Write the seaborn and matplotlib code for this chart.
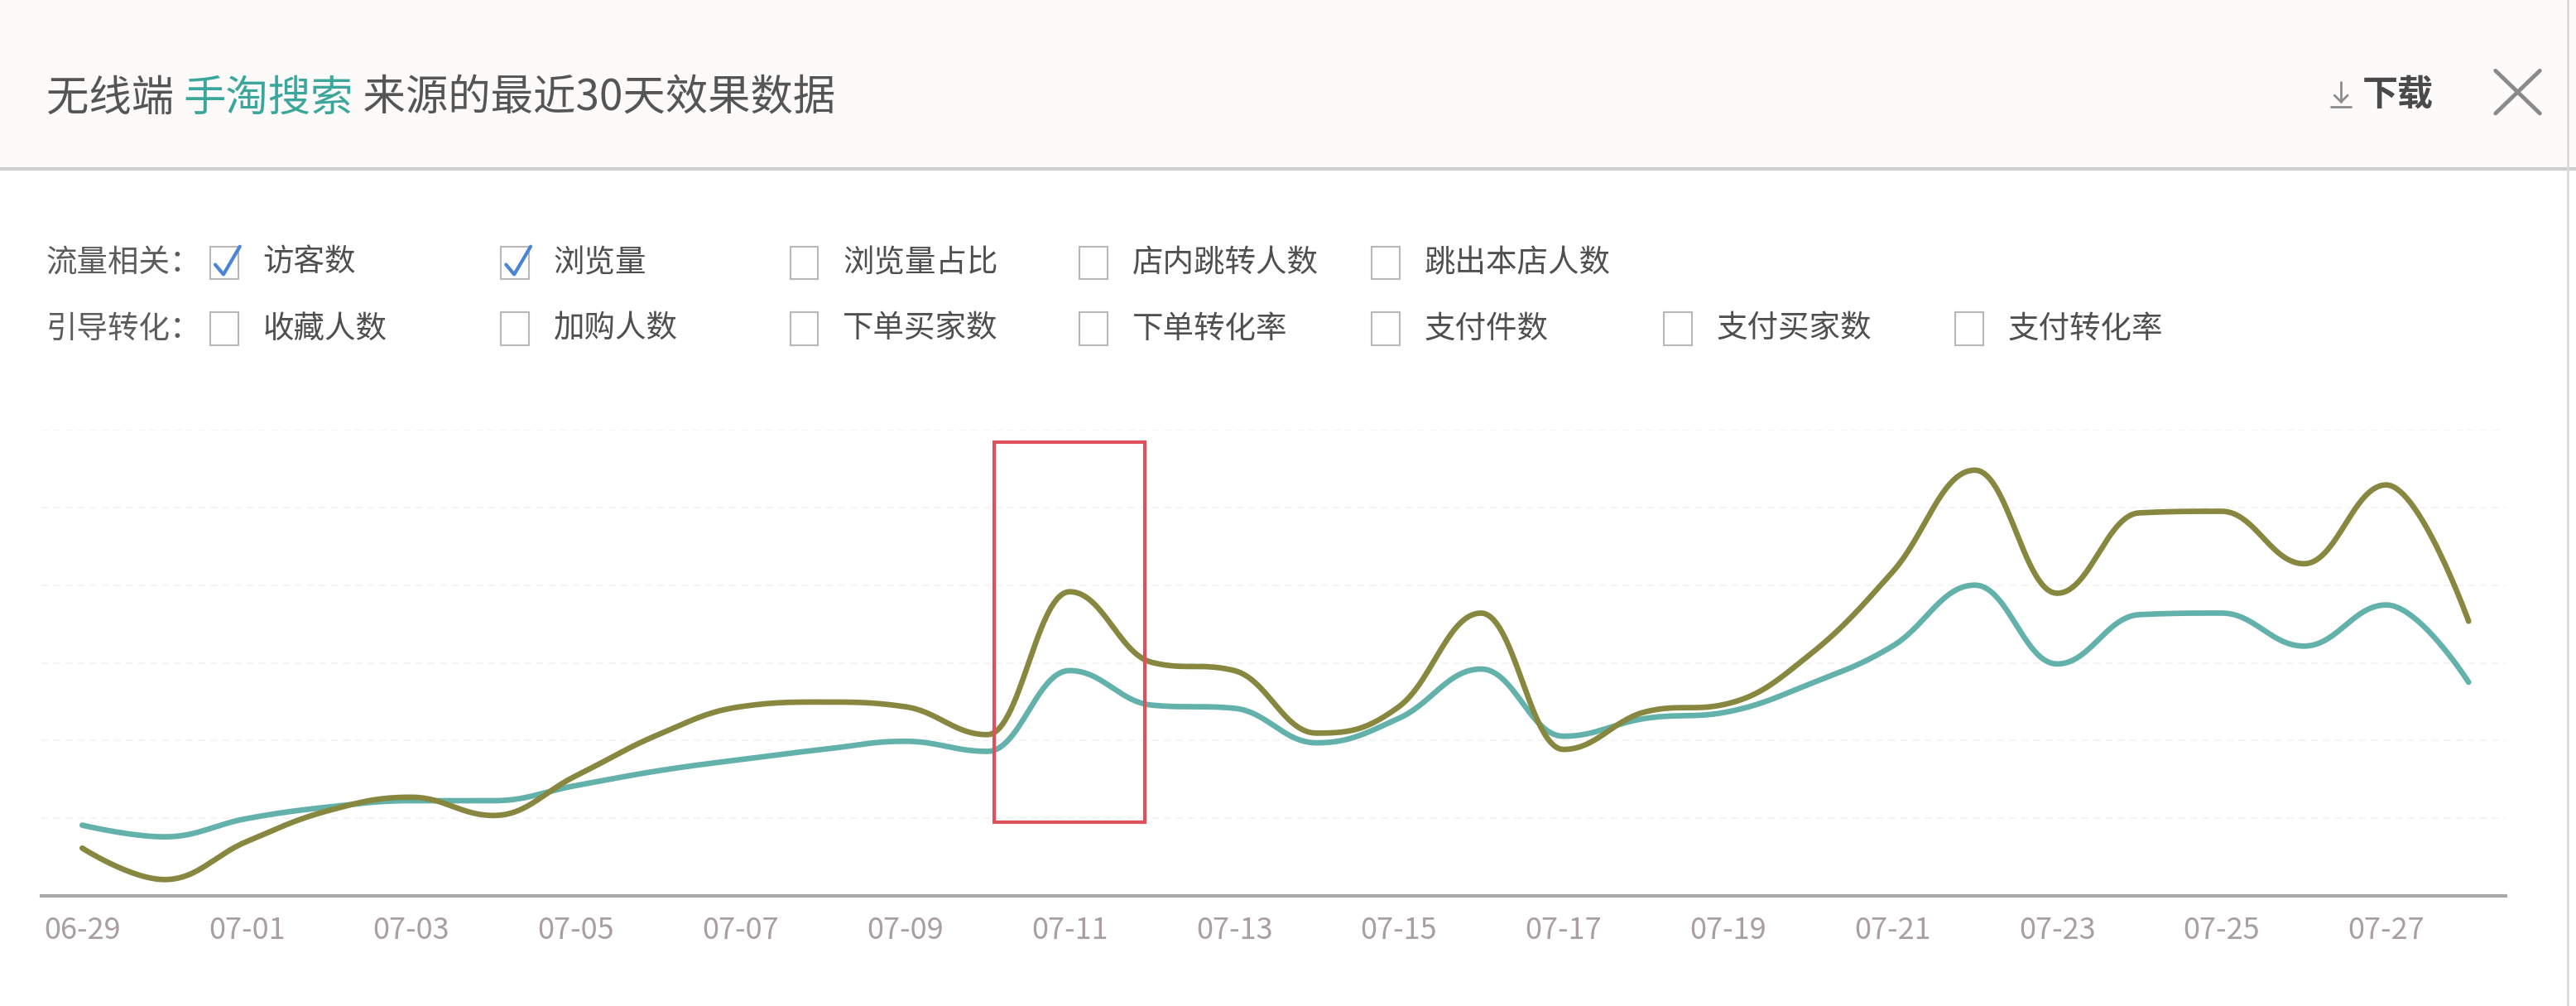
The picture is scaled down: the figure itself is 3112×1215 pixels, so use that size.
import numpy as np
import pandas as pd
import matplotlib
matplotlib.use("Agg")
import matplotlib.pyplot as plt
import seaborn as sns
from matplotlib.patches import Rectangle
from matplotlib.lines import Line2D

# ---------------- data ----------------
dates = ["06-29", "06-30", "07-01", "07-02", "07-03", "07-04", "07-05", "07-06",
         "07-07", "07-08", "07-09", "07-10", "07-11", "07-12", "07-13", "07-14",
         "07-15", "07-16", "07-17", "07-18", "07-19", "07-20", "07-21", "07-22",
         "07-23", "07-24", "07-25", "07-26", "07-27", "07-28"]
visitors = [182, 152, 199, 229, 245, 245, 284, 322, 351, 377, 398, 372, 580, 491, 483,
            394, 457, 584, 411, 457, 474, 546, 643, 800, 597, 724, 728, 643, 749, 550]
pageviews = [123, 42, 140, 220, 254, 207, 309, 415, 487, 499, 487, 415, 783, 601, 580,
             419, 487, 728, 377, 474, 495, 622, 834, 1096, 779, 986, 990, 855, 1058, 707]
series_names = ["访客数", "浏览量"]
series_colors = ["#62b1ab", "#87873f"]
tick_labels = dates[::2]

title_parts = ["无线端 ", "手淘搜索", " 来源的最近30天效果数据"]
row1_group = "流量相关："
row1_items = ["访客数", "浏览量", "浏览量占比", "店内跳转人数", "跳出本店人数"]
row1_checked = [True, True, False, False, False]
row2_group = "引导转化："
row2_items = ["收藏人数", "加购人数", "下单买家数", "下单转化率", "支付件数", "支付买家数", "支付转化率"]
row2_checked = [False] * 7


# ------------- spline (Highcharts-like) for drawing only -------------
def spline(xs, ys, smoothing=1.5, n=30):
    xs = np.asarray(xs, float)
    ys = np.asarray(ys, float)
    N = len(xs)
    lc = np.zeros((N, 2))
    rc = np.zeros((N, 2))
    for i in range(N):
        px, py = xs[i], ys[i]
        if i == 0 or i == N - 1:
            lc[i] = (px, py)
            rc[i] = (px, py)
            continue
        lx, ly = xs[i - 1], ys[i - 1]
        nx, ny = xs[i + 1], ys[i + 1]
        d = smoothing + 1
        lcx = (smoothing * px + lx) / d
        lcy = (smoothing * py + ly) / d
        rcx = (smoothing * px + nx) / d
        rcy = (smoothing * py + ny) / d
        corr = 0.0
        if rcx != lcx:
            corr = (rcy - lcy) * (rcx - px) / (rcx - lcx) + py - rcy
        lcy += corr
        rcy += corr
        if lcy > ly and lcy > py:
            lcy = max(ly, py); rcy = 2 * py - lcy
        elif lcy < ly and lcy < py:
            lcy = min(ly, py); rcy = 2 * py - lcy
        if rcy > ny and rcy > py:
            rcy = max(ny, py); lcy = 2 * py - rcy
        elif rcy < ny and rcy < py:
            rcy = min(ny, py); lcy = 2 * py - rcy
        lc[i] = (lcx, lcy)
        rc[i] = (rcx, rcy)
    ox, oy = [xs[0]], [ys[0]]
    t = np.linspace(0, 1, n + 1)[1:]
    for i in range(N - 1):
        p0 = (xs[i], ys[i]); p1 = rc[i]; p2 = lc[i + 1]; p3 = (xs[i + 1], ys[i + 1])
        a, b, c, e = (1 - t) ** 3, 3 * (1 - t) ** 2 * t, 3 * (1 - t) * t ** 2, t ** 3
        ox.extend(a * p0[0] + b * p1[0] + c * p2[0] + e * p3[0])
        oy.extend(a * p0[1] + b * p1[1] + c * p2[1] + e * p3[1])
    return np.array(ox), np.array(oy)


frames = []
idx = np.arange(len(dates))
for name, vals in zip(series_names, [visitors, pageviews]):
    sx, sy = spline(idx, vals)
    frames.append(pd.DataFrame({"x": sx, "y": sy, "series": name}))
df = pd.concat(frames, ignore_index=True)

# ---------------- figure ----------------
sns.set_theme(style="white")
plt.rcParams["font.family"] = ["Noto Sans CJK SC", "DejaVu Sans"]

W, H = 3112, 1215
S = W / 1568.0
fig = plt.figure(figsize=(W / 100, H / 100), dpi=100)
fig.patch.set_facecolor("white")


def fx(x):  # x in reduced-reference pixels
    return x * S / W


def fy(y):
    return 1 - y * S / H


# header background + separator
fig.add_artist(Rectangle((0, fy(103)), 1, 1 - fy(103), transform=fig.transFigure,
                         facecolor="#fdfafa", edgecolor="none", zorder=0))
fig.add_artist(Line2D([0, 1], [fy(103), fy(103)], transform=fig.transFigure,
                      color="#cdcdcd", lw=3))
fig.add_artist(Line2D([fx(1563), fx(1563)], [0, 1], transform=fig.transFigure,
                      color="#dadada", lw=2))

# title (multi-coloured)
renderer = fig.canvas.get_renderer()
x0 = fx(28)
for part, col in zip(title_parts, ["#555555", "#3aa69c", "#555555"]):
    t = fig.text(x0, fy(60), part, fontsize=37, color=col, va="center", ha="left")
    x0 += t.get_window_extent(renderer).width / W

# download icon + text
ic = "#8c8c8c"
fig.add_artist(Line2D([fx(1425), fx(1425)], [fy(50), fy(62)], transform=fig.transFigure, color=ic, lw=2))
fig.add_artist(Line2D([fx(1421), fx(1425), fx(1429)], [fy(58), fy(62), fy(58)], transform=fig.transFigure, color=ic, lw=2))
fig.add_artist(Line2D([fx(1419), fx(1431)], [fy(65), fy(65)], transform=fig.transFigure, color=ic, lw=2))
fig.text(fx(1438), fy(57), "下载", fontsize=31, color="#4a4a4a", va="center", ha="left", fontweight="bold")
# close X
fig.add_artist(Line2D([fx(1519), fx(1546)], [fy(43), fy(69)], transform=fig.transFigure, color="#8a8a8a", lw=3.5))
fig.add_artist(Line2D([fx(1546), fx(1519)], [fy(43), fy(69)], transform=fig.transFigure, color="#8a8a8a", lw=3.5))

# checkbox rows
cb_cols = [128, 305, 481, 657, 835, 1013, 1190]


def draw_row(yc, group, items, checked):
    fig.text(fx(28), fy(yc), group, fontsize=27, color="#5c5c5c", va="center", ha="left")
    for i, (lab, chk) in enumerate(zip(items, checked)):
        cx = cb_cols[i]
        fig.add_artist(Rectangle((fx(cx), fy(yc + 10)), 17 * S / W, 20 * S / H,
                                 transform=fig.transFigure, facecolor="white",
                                 edgecolor="#b8b8b8", lw=1.5))
        if chk:
            fig.add_artist(Line2D([fx(cx + 3), fx(cx + 8), fx(cx + 18)],
                                  [fy(yc + 1), fy(yc + 7), fy(yc - 10)],
                                  transform=fig.transFigure, color="#4a84d6", lw=3))
        fig.text(fx(cx + 32), fy(yc), lab, fontsize=27, color="#4f4f4f", va="center", ha="left")


draw_row(160, row1_group, row1_items, row1_checked)
draw_row(200, row2_group, row2_items, row2_checked)

# ---------------- chart ----------------
ax_left = 49.6 / W
ax_right = 3027 / W
ax_bottom = (H - 1082) / H
ax_top = (H - 519) / H
ax = fig.add_axes([ax_left, ax_bottom, ax_right - ax_left, ax_top - ax_bottom])
ax.set_facecolor("none")

sns.lineplot(data=df, x="x", y="y", hue="series", hue_order=series_names,
             palette=series_colors, sort=False, estimator=None, legend=False,
             linewidth=4.8, ax=ax, zorder=3)

ax.set_xlim(-0.5, 29.45)
ax.set_ylim(0, 1200)
ax.set_xlabel("")
ax.set_ylabel("")
ax.set_yticks([])
ax.set_xticks(idx[::2])
ax.set_xticklabels(tick_labels)
ax.tick_params(axis="x", length=0, pad=17, labelsize=26, labelcolor="#a99ea3")
for yv in range(200, 1201, 200):
    ax.axhline(yv, color="#f4f4f4", lw=1.5, ls=(0, (4, 3)), zorder=1)
for sp in ["top", "left", "right"]:
    ax.spines[sp].set_visible(False)
ax.spines["bottom"].set_color("#a8a8a8")
ax.spines["bottom"].set_linewidth(3)

# red highlight box around 07-11
ax.add_patch(Rectangle((11.08, 190), 1.83, 978, facecolor="none",
                       edgecolor="#e0505c", lw=3, zorder=4, clip_on=False))

fig.savefig("out.png", dpi=100)
